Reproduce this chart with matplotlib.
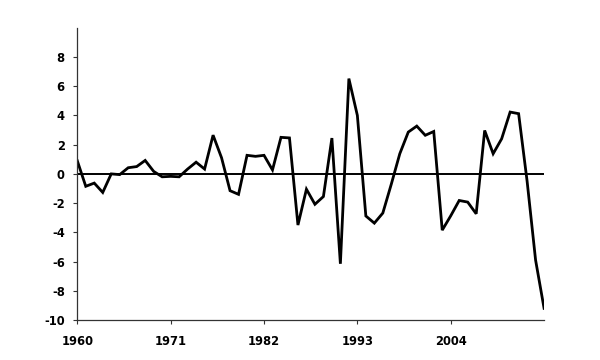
import numpy as np
import matplotlib
matplotlib.use('Agg')
import matplotlib.pyplot as plt

# Data
years = list(range(1960, 2016))
values = [0.9, -0.85, -0.63, -1.27, 0.0, -0.05, 0.42, 0.5, 0.92, 0.17,
          -0.2, -0.17, -0.2, 0.33, 0.8, 0.33, 2.65, 1.1, -1.15, -1.4,
          1.27, 1.2, 1.27, 0.27, 2.5, 2.46, -3.5, -1.05, -2.08, -1.55,
          2.45, -6.15, 6.52, 4.0, -2.88, -3.37, -2.68, -0.7, 1.38, 2.86,
          3.27, 2.64, 2.9, -3.85, -2.87, -1.82, -1.93, -2.73, 2.97, 1.38,
          2.4, 4.23, 4.12, -0.5, -5.9, -9.2]
xticks = [1960, 1971, 1982, 1993, 2004]
yticks = list(range(-10, 10, 2))

plt.rcParams['font.family'] = ['DejaVu Sans']
plt.rcParams['axes.unicode_minus'] = False

fig = plt.figure(figsize=(6, 3.6), dpi=100)
ax = fig.add_axes([0.1288, 0.111, 0.778, 0.812])

ax.plot(years, values, color='black', linewidth=2.0, solid_joinstyle='miter')
ax.axhline(0, color='black', linewidth=1.4)

ax.set_xlim(1960, 2015)
ax.set_ylim(-10, 10)
ax.set_xticks(xticks)
ax.set_yticks(yticks)

for side in ['top', 'right']:
    ax.spines[side].set_visible(False)
for side in ['left', 'bottom']:
    ax.spines[side].set_color('#333333')
    ax.spines[side].set_linewidth(0.9)

ax.tick_params(axis='both', direction='out', length=3, width=0.8, colors='#333333',
               labelcolor='black', labelsize=8.3)
ax.tick_params(axis='x', pad=8)
ax.tick_params(axis='y', pad=6)
for lbl in ax.get_xticklabels() + ax.get_yticklabels():
    lbl.set_fontweight('bold')

plt.savefig('out.png', dpi=100)
